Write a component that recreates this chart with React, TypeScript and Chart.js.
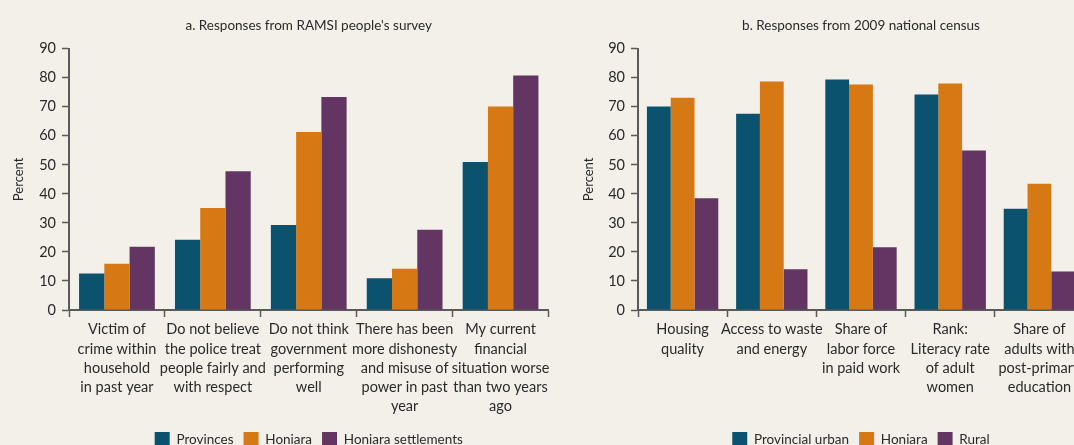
import React, { useEffect, useRef } from "react";
import { Chart, registerables } from "chart.js";

Chart.register(...registerables);

const surveyCategories: string[][] = [
  ["Victim of", "crime within", "household", "in past year"],
  ["Do not believe", "the police treat", "people fairly and", "with respect"],
  ["Do not think", "government", "performing", "well"],
  ["There has been", "more dishonesty", "and misuse of", "power in past", "year"],
  ["My current", "financial", "situation worse", "than two years", "ago"],
];
const provinces = [12.6, 24.2, 29.3, 10.9, 51.0];
const honiaraSurvey = [15.9, 35.1, 61.3, 14.2, 70.1];
const honiaraSettlements = [21.8, 47.8, 73.4, 27.6, 80.8];

const censusCategories: string[][] = [
  ["Housing", "quality"],
  ["Access to waste", "and energy"],
  ["Share of", "labor force", "in paid work"],
  ["Rank:", "Literacy rate", "of adult", "women"],
  ["Share of", "adults with", "post-primary", "education"],
];
const provincialUrban = [70.1, 67.6, 79.4, 74.2, 34.9];
const honiaraCensus = [73.1, 78.7, 77.7, 78.0, 43.5];
const rural = [38.5, 14.0, 21.6, 54.9, 13.3];

const yTicksMax = 90;
const yTicksStep = 10;

const TEAL = "#0b526f";
const ORANGE = "#d67814";
const PURPLE = "#633563";
const BG = "#f3f0ea";
const AXIS = "#5a5a5a";
const TEXT = "#2a2a2a";
const FONT = "Lato";

type PanelProps = {
  title: string;
  labels: string[][];
  series: { label: string; data: number[]; color: string }[];
  yAxisWidth: number;
  yTitlePad: number;
  rightPad: number;
  width: number;
  catPct: number;
};

function Panel({ title, labels, series, yAxisWidth, yTitlePad, rightPad, width, catPct }: PanelProps) {
  const ref = useRef<HTMLCanvasElement | null>(null);
  useEffect(() => {
    if (!ref.current) return;
    const chart = new Chart(ref.current, {
      type: "bar",
      data: {
        labels,
        datasets: series.map((s) => ({
          label: s.label,
          data: s.data,
          backgroundColor: s.color,
          borderWidth: 0,
          categoryPercentage: catPct,
          barPercentage: 1.0,
        })),
      },
      options: {
        animation: false,
        responsive: false,
        devicePixelRatio: 1,
        layout: { padding: { left: 0, right: rightPad, top: 0, bottom: 0 } },
        plugins: {
          title: {
            display: true,
            text: title,
            fullSize: false,
            color: TEXT,
            font: { family: FONT, size: 13.5, weight: "normal" },
            padding: { top: 18, bottom: 14.5 },
          },
          legend: {
            display: true,
            position: "bottom",
            fullSize: false,
            labels: {
              color: TEXT,
              font: { family: FONT, size: 13.5 },
              boxWidth: 15,
              boxHeight: 15,
              padding: 10,
            },
          },
          tooltip: { enabled: false },
        },
        scales: {
          x: {
            grid: {
              display: true,
              drawOnChartArea: false,
              drawTicks: true,
              tickLength: 7,
              tickColor: AXIS,
              tickWidth: 1.5,
              offset: true,
            },
            border: { display: true, color: AXIS, width: 2 },
            ticks: {
              color: TEXT,
              font: { family: FONT, size: 14.5, lineHeight: 1.33 },
              padding: 3,
              maxRotation: 0,
              autoSkip: false,
            },
            afterFit: (scale: any) => {
              scale.height = 112;
            },
          },
          y: {
            min: 0,
            max: yTicksMax,
            grid: {
              display: true,
              drawOnChartArea: false,
              drawTicks: true,
              tickLength: 7,
              tickColor: AXIS,
              tickWidth: 1.5,
            },
            border: { display: true, color: AXIS, width: 2 },
            ticks: {
              stepSize: yTicksStep,
              color: TEXT,
              font: { family: FONT, size: 14.5 },
              padding: 6,
            },
            title: {
              display: true,
              text: "Percent",
              color: TEXT,
              font: { family: FONT, size: 13 },
              padding: { top: yTitlePad, bottom: 0 },
            },
            afterFit: (scale: any) => {
              scale.width = yAxisWidth;
            },
          },
        },
      },
    });
    return () => chart.destroy();
  }, []);
  return <canvas ref={ref} width={width} height={457} style={{ width, height: 457, display: "block" }} />;
}

export default function App() {
  return (
    <div
      style={{
        position: "fixed",
        left: 0,
        top: 0,
        width: 1074,
        height: 445,
        overflow: "hidden",
        background: BG,
      }}
    >
      <div style={{ position: "absolute", left: 0, top: 0 }}>
        <Panel
          title="a. Responses from RAMSI people's survey"
          labels={surveyCategories}
          series={[
            { label: "Provinces", data: provinces, color: TEAL },
            { label: "Honiara", data: honiaraSurvey, color: ORANGE },
            { label: "Honiara settlements", data: honiaraSettlements, color: PURPLE },
          ]}
          yAxisWidth={69}
          yTitlePad={11}
          rightPad={11.5}
          width={560}
          catPct={0.79}
        />
      </div>
      <div style={{ position: "absolute", left: 560, top: 0 }}>
        <Panel
          title="b. Responses from 2009 national census"
          labels={censusCategories}
          series={[
            { label: "Provincial urban", data: provincialUrban, color: TEAL },
            { label: "Honiara", data: honiaraCensus, color: ORANGE },
            { label: "Rural", data: rural, color: PURPLE },
          ]}
          yAxisWidth={78}
          yTitlePad={21.5}
          rightPad={16}
          width={540}
          catPct={0.8}
        />
      </div>
    </div>
  );
}
